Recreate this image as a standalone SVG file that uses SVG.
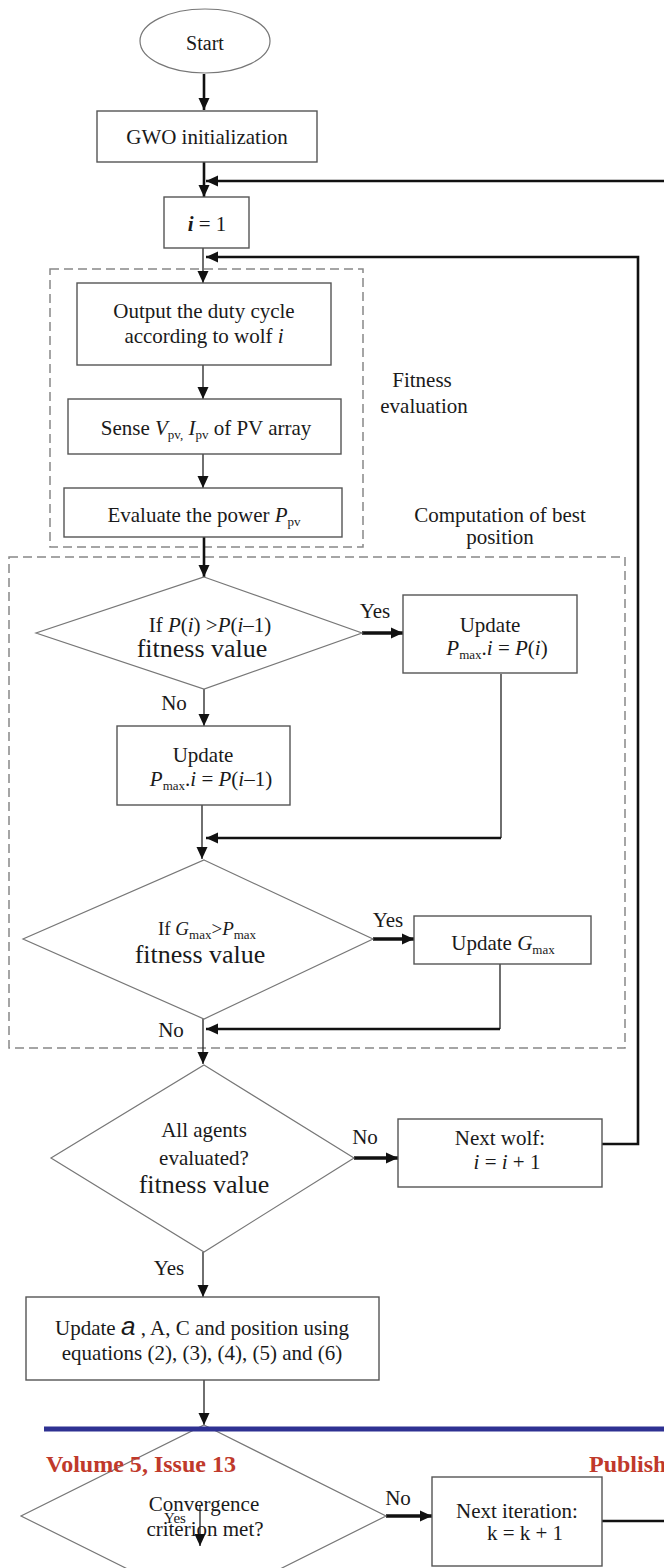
<svg xmlns="http://www.w3.org/2000/svg" width="664" height="1568" viewBox="0 0 664 1568">
<defs>
<style>
.t{font-family:"Liberation Serif","Times New Roman",serif;font-size:21px;fill:#1a1a1a;text-anchor:middle}
.fv{font-size:26px}
.box{fill:#fff;stroke:#555;stroke-width:1.4}
.dia{fill:#fff;stroke:#777;stroke-width:1.2}
.dash{fill:none;stroke:#888;stroke-width:1.5;stroke-dasharray:9 5}
.thin{fill:none;stroke:#222;stroke-width:1.3}
.thick{fill:none;stroke:#111;stroke-width:2.6}
.bold{fill:none;stroke:#111;stroke-width:3.5}
.it{font-style:italic}
.sub{font-size:13px}
</style>
<marker id="ah" markerUnits="userSpaceOnUse" markerWidth="12" markerHeight="12" refX="12" refY="6" orient="auto">
<path d="M0,0.5 L12,6 L0,11.5 z" fill="#111"/>
</marker>
</defs>

<g id="regions">
<rect class="dash" x="50" y="269" width="313" height="278"/>
<rect class="dash" x="9" y="557" width="616" height="491"/>
<text class="t" x="422" y="387">Fitness</text>
<text class="t" x="424" y="413">evaluation</text>
<text class="t" x="500" y="522">Computation of best</text>
<text class="t" x="500" y="544">position</text>
</g>

<g id="connectors">
<line class="thick" x1="204" y1="74" x2="204" y2="110" marker-end="url(#ah)"/>
<line class="thick" x1="204" y1="162" x2="204" y2="197" marker-end="url(#ah)"/>
<line class="thick" x1="664" y1="181" x2="206" y2="181" marker-end="url(#ah)"/>
<line class="thin" x1="203" y1="248" x2="203" y2="283" marker-end="url(#ah)"/>
<polyline class="thick" points="602,1144 638,1144 638,257 206,257" marker-end="url(#ah)"/>
<line class="thin" x1="203" y1="365" x2="203" y2="399" marker-end="url(#ah)"/>
<line class="thin" x1="203" y1="454" x2="203" y2="488" marker-end="url(#ah)"/>
<line class="thick" x1="204" y1="537" x2="204" y2="577" marker-end="url(#ah)"/>
<line class="bold" x1="362" y1="633" x2="403" y2="633" marker-end="url(#ah)"/>
<line class="thin" x1="204" y1="689" x2="204" y2="726" marker-end="url(#ah)"/>
<line class="thin" x1="501" y1="674" x2="501" y2="838"/>
<line class="thick" x1="501" y1="838" x2="206" y2="838" marker-end="url(#ah)"/>
<line class="thin" x1="202" y1="805" x2="202" y2="859" marker-end="url(#ah)"/>
<line class="bold" x1="373" y1="939" x2="414" y2="939" marker-end="url(#ah)"/>
<line class="thin" x1="500" y1="964" x2="500" y2="1029"/>
<line class="thick" x1="500" y1="1029" x2="206" y2="1029" marker-end="url(#ah)"/>
<line class="thin" x1="203" y1="1019" x2="203" y2="1064" marker-end="url(#ah)"/>
<line class="bold" x1="354" y1="1158" x2="398" y2="1158" marker-end="url(#ah)"/>
<line class="thin" x1="203" y1="1252" x2="203" y2="1297" marker-end="url(#ah)"/>
<line class="thin" x1="204" y1="1380" x2="204" y2="1425" marker-end="url(#ah)"/>
<line class="bold" x1="386" y1="1516" x2="432" y2="1516" marker-end="url(#ah)"/>
<line class="thick" x1="602" y1="1521" x2="664" y2="1521" stroke="#333"/>
<text class="t" x="375" y="618">Yes</text>
<text class="t" x="174" y="710">No</text>
<text class="t" x="388" y="927">Yes</text>
<text class="t" x="171" y="1037">No</text>
<text class="t" x="365" y="1144">No</text>
<text class="t" x="169" y="1275">Yes</text>
<text class="t" x="398" y="1505">No</text>
</g>

<g id="start">
<ellipse cx="205" cy="41" rx="65" ry="32" fill="#fff" stroke="#777" stroke-width="1.2"/>
<text class="t" x="205" y="50" style="font-size:20px">Start</text>
</g>

<g id="gwo-init">
<rect class="box" x="97" y="111" width="220" height="51"/>
<text class="t" x="207" y="144">GWO initialization</text>
</g>

<g id="i-eq-1">
<rect class="box" x="164" y="197" width="85" height="51"/>
<text class="t" x="207" y="231"><tspan class="it" font-weight="bold">i</tspan> = 1</text>
</g>

<g id="output-duty">
<rect class="box" x="77" y="283" width="254" height="82"/>
<text class="t" x="204" y="318">Output the duty cycle</text>
<text class="t" x="204" y="343">according to wolf  <tspan class="it">i</tspan></text>
</g>

<g id="sense">
<rect class="box" x="68" y="399" width="273" height="55"/>
<text class="t" x="206" y="435">Sense <tspan class="it">V</tspan><tspan class="sub" dy="4">pv,</tspan><tspan dy="-4"> </tspan><tspan class="it">I</tspan><tspan class="sub" dy="4">pv</tspan><tspan dy="-4"> of PV array</tspan></text>
</g>

<g id="evaluate-power">
<rect class="box" x="64" y="488" width="278" height="49"/>
<text class="t" x="204" y="522">Evaluate the power <tspan class="it">P</tspan><tspan class="sub" dy="4">pv</tspan></text>
</g>

<g id="decision-p">
<polygon class="dia" points="204,577 362,633 204,689 36,633"/>
<text class="t" x="210" y="632">If <tspan class="it">P</tspan>(<tspan class="it">i</tspan>) &gt;<tspan class="it">P</tspan>(<tspan class="it">i</tspan>–1)</text>
<text class="t fv" x="202" y="657">fitness value</text>
</g>

<g id="update-pi">
<rect class="box" x="403" y="595" width="174" height="78"/>
<text class="t" x="490" y="632">Update</text>
<text class="t" x="497" y="655"><tspan class="it">P</tspan><tspan class="sub" dy="4">max</tspan><tspan dy="-4">.</tspan><tspan class="it">i</tspan> = <tspan class="it">P</tspan>(<tspan class="it">i</tspan>)</text>
</g>

<g id="update-pi1">
<rect class="box" x="117" y="726" width="173" height="79"/>
<text class="t" x="203" y="762">Update</text>
<text class="t" x="211" y="786"><tspan class="it">P</tspan><tspan class="sub" dy="4">max</tspan><tspan dy="-4">.</tspan><tspan class="it">i</tspan> = <tspan class="it">P</tspan>(<tspan class="it">i</tspan>–1)</text>
</g>

<g id="decision-g">
<polygon class="dia" points="204,860 373,939 204,1019 23,939"/>
<text class="t" x="207" y="935" style="font-size:19px">If <tspan class="it">G</tspan><tspan class="sub" dy="4">max</tspan><tspan dy="-4">&gt;</tspan><tspan class="it">P</tspan><tspan class="sub" dy="4">max</tspan></text>
<text class="t fv" x="200" y="963">fitness value</text>
</g>

<g id="update-gmax">
<rect class="box" x="414" y="916" width="177" height="48"/>
<text class="t" x="503" y="950">Update <tspan class="it">G</tspan><tspan class="sub" dy="4">max</tspan></text>
</g>

<g id="decision-all">
<polygon class="dia" points="204,1065 354,1158 204,1252 51,1158"/>
<text class="t" x="204" y="1137">All agents</text>
<text class="t" x="204" y="1165">evaluated?</text>
<text class="t fv" x="204" y="1193">fitness value</text>
</g>

<g id="next-wolf">
<rect class="box" x="398" y="1119" width="204" height="68"/>
<text class="t" x="500" y="1145">Next wolf:</text>
<text class="t" x="507" y="1169"><tspan class="it">i</tspan> = <tspan class="it">i</tspan> + 1</text>
</g>

<g id="update-params">
<rect class="box" x="26" y="1297" width="353" height="83"/>
<text class="t" x="202" y="1335">Update <tspan class="it" font-family="Liberation Sans, Arial, sans-serif" font-size="26">a</tspan> , A, C and position using</text>
<text class="t" x="202" y="1360">equations (2), (3), (4), (5) and (6)</text>
</g>

<g id="decision-conv">
<polygon class="dia" points="204,1425 386,1516 204,1607 21,1516"/>
<text class="t" x="204" y="1511">Convergence</text>
<text class="t" x="175" y="1523" style="font-size:15px">Yes</text>
<text class="t" x="205" y="1536">criterion met?</text>
<line class="thin" x1="200" y1="1506" x2="200" y2="1546" marker-end="url(#ah)"/>
</g>

<g id="next-iteration">
<rect class="box" x="432" y="1477" width="170" height="89"/>
<text class="t" x="517" y="1518">Next iteration:</text>
<text class="t" x="525" y="1540">k = k + 1</text>
</g>

<g id="page-overlay">
<line x1="44" y1="1429" x2="664" y2="1429" stroke="#2e3192" stroke-width="5"/>
<text x="46" y="1472" font-family="Liberation Serif, Times New Roman, serif" font-weight="bold" font-size="24" fill="#c0392b" textLength="190" lengthAdjust="spacingAndGlyphs">Volume 5, Issue 13</text>
<text x="589" y="1472" font-family="Liberation Serif, Times New Roman, serif" font-weight="bold" font-size="24" fill="#c0392b">Publish</text>
</g>
</svg>
